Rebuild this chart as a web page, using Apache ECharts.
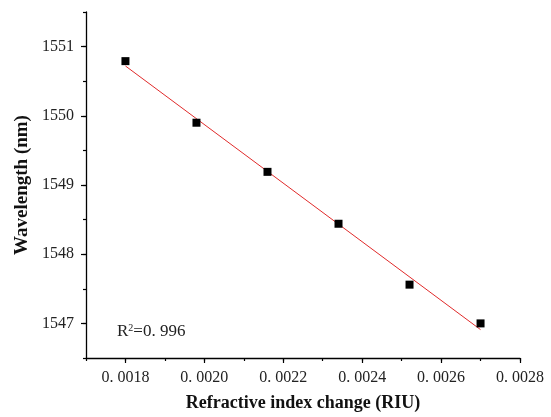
<!DOCTYPE html>
<html>
<head>
<meta charset="utf-8">
<script src="https://cdn.jsdelivr.net/npm/echarts@6/dist/echarts.min.js"></script>
<style>html,body{margin:0;padding:0;background:#fff;}#c{width:551px;height:417px;}</style>
</head>
<body>
<div id="c"></div>
<script>
const riu = [0.0018, 0.00198, 0.00216, 0.00234, 0.00252, 0.0027];
const wavelength = [1550.79, 1549.90, 1549.19, 1548.44, 1547.56, 1547.00];
const fitX = [0.0018, 0.0027];
const fitY = [1550.72, 1546.91];
const xTickLabels = [0.0018, 0.0020, 0.0022, 0.0024, 0.0026, 0.0028];
const yTickLabels = [1547, 1548, 1549, 1550, 1551];

const chart = echarts.init(document.getElementById('c'));
const serif = 'Liberation Serif';
const axisLineStyle = {color: '#000', width: 1.3};
chart.setOption({
  animation: false,
  grid: {left: 86, right: 31, top: 12, bottom: 55},
  xAxis: [{
    type: 'value', min: 0.0017, max: 0.0028, interval: 0.0001,
    axisLine: {show: true, lineStyle: axisLineStyle, onZero: false},
    axisTick: {show: true, length: 5, lineStyle: {color: '#000', width: 1.2}, customValues: xTickLabels},
    axisLabel: {customValues: xTickLabels, margin: 12, fontFamily: serif, fontSize: 16, color: '#222',
      formatter: v => '0. ' + (v * 10000).toFixed(0).padStart(4, '0')},
    splitLine: {show: false},
    name: 'Refractive index change (RIU)', nameLocation: 'middle', nameGap: 36,
    nameTextStyle: {fontFamily: serif, fontWeight: 'bold', fontSize: 18, color: '#111'}
  }, {
    type: 'value', min: 0.0017, max: 0.0028, interval: 0.0001, position: 'bottom',
    axisLine: {show: false}, axisLabel: {show: false}, splitLine: {show: false},
    axisTick: {show: true, length: 3, lineStyle: {color: '#000', width: 1.2}}
  }],
  yAxis: [{
    type: 'value', min: 1546.5, max: 1551.5, interval: 0.5,
    axisLine: {show: true, lineStyle: axisLineStyle, onZero: false},
    axisTick: {show: true, length: 5, lineStyle: {color: '#000', width: 1.2}, customValues: yTickLabels},
    axisLabel: {customValues: yTickLabels, margin: 12, fontFamily: serif, fontSize: 16, color: '#222',
      formatter: v => String(v)},
    splitLine: {show: false},
    name: 'Wavelength (nm)', nameLocation: 'middle', nameGap: 49,
    nameTextStyle: {fontFamily: serif, fontWeight: 'bold', fontSize: 19, color: '#111'}
  }, {
    type: 'value', min: 1546.5, max: 1551.5, interval: 0.5, position: 'left',
    axisLine: {show: false}, axisLabel: {show: false}, splitLine: {show: false},
    axisTick: {show: true, length: 3, lineStyle: {color: '#000', width: 1.2}}
  }],
  graphic: [{
    type: 'text', left: 117, top: 323,
    style: {
      rich: {
        a: {fontFamily: serif, fontSize: 17, fill: '#222'},
        s: {fontFamily: serif, fontSize: 10, fill: '#222', verticalAlign: 'top'},
        b: {fontFamily: serif, fontSize: 17, fill: '#222'}
      },
      text: '{a|R}{s|2}{b|=0. 996}'
    }
  }],
  series: [{
    type: 'line', data: fitX.map((x, i) => [x, fitY[i]]),
    symbol: 'none', lineStyle: {color: '#e02a2a', width: 1}, z: 1
  }, {
    type: 'scatter', data: riu.map((x, i) => [x, wavelength[i]]),
    symbol: 'rect', symbolSize: 8, itemStyle: {color: '#000', opacity: 1}, z: 2
  }]
});
</script>
</body>
</html>
